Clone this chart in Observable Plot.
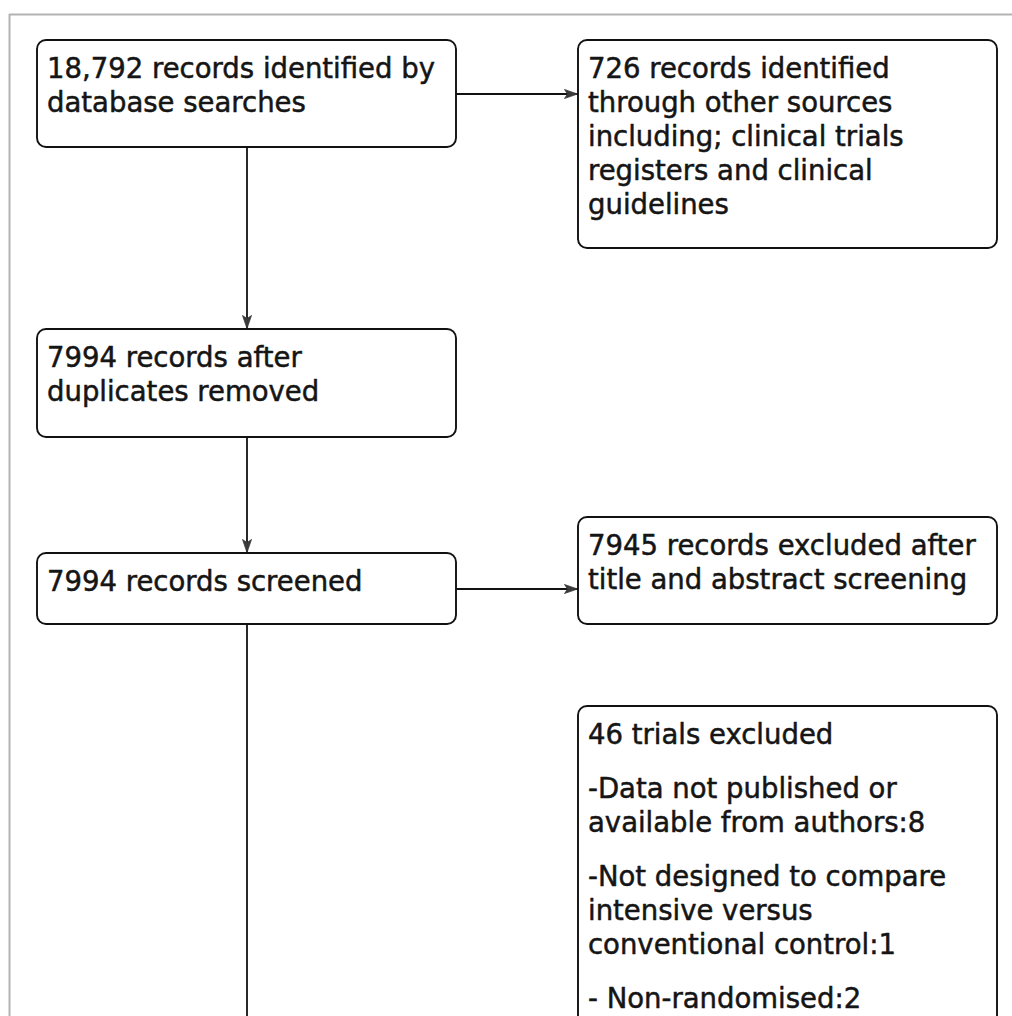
<!DOCTYPE html>
<html>
<head>
<meta charset="utf-8">
<script src="https://cdn.jsdelivr.net/npm/d3@7"></script>
<script src="https://cdn.jsdelivr.net/npm/@observablehq/plot@0.6"></script>
<style>
  html, body { margin: 0; padding: 0; background: #fff; }
  #chart svg { display: block; }
</style>
</head>
<body>
<div id="chart"></div>
<script>
// ---- Data: text of each stage of the flow diagram ----
const databaseRecords = ["18,792 records identified by", "database searches"];
const otherSourceRecords = ["726 records identified", "through other sources", "including; clinical trials", "registers and clinical", "guidelines"];
const afterDuplicates = ["7994 records after", "duplicates removed"];
const screenedRecords = ["7994 records screened"];
const excludedScreening = ["7945 records excluded after", "title and abstract screening"];
const trialsExcluded = [
  ["46 trials excluded"],
  ["-Data not published or", "available from authors:8"],
  ["-Not designed to compare", "intensive versus", "conventional control:1"],
  ["- Non-randomised:2"]
];

// ---- Layout (geometry in diagram units) ----
const W = 1012, H = 1016;
const layout = {
  frame: {x: 9, y: 14},
  boxes: {
    db:       {x1: 37,  x2: 456, y1: 40,  y2: 147, paras: [databaseRecords]},
    other:    {x1: 578, x2: 997, y1: 40,  y2: 248, paras: [otherSourceRecords]},
    dup:      {x1: 37,  x2: 456, y1: 329, y2: 437, paras: [afterDuplicates]},
    screen:   {x1: 37,  x2: 456, y1: 553, y2: 624, paras: [screenedRecords]},
    excl:     {x1: 578, x2: 997, y1: 517, y2: 624, paras: [excludedScreening]},
    trials:   {x1: 578, x2: 997, y1: 706, y2: 1060, paras: trialsExcluded}
  },
  padX: 9.5, firstBaseline: 37.5, lineStep: 34, paraGap: 20
};

const boxes = Object.entries(layout.boxes).map(([key, b]) => ({key, ...b}));
const B = layout.boxes;
const cx = b => (b.x1 + b.x2) / 2;
const cy = b => (b.y1 + b.y2) / 2;

// text lines
const lines = [];
for (const b of boxes) {
  let i = 0;
  b.paras.forEach((para, p) => {
    para.forEach(t => {
      lines.push({text: t, x: b.x1 + layout.padX, y: b.y1 + layout.firstBaseline + i * layout.lineStep + p * layout.paraGap});
      i++;
    });
  });
}

// connectors
const connectors = [
  {x1: B.db.x2, y1: cy(B.db), x2: B.other.x1, y2: cy(B.db), head: "right"},
  {x1: cx(B.db), y1: B.db.y2, x2: cx(B.db), y2: B.dup.y1, head: "down"},
  {x1: cx(B.dup), y1: B.dup.y2, x2: cx(B.dup), y2: B.screen.y1, head: "down"},
  {x1: B.screen.x2, y1: cy(B.screen), x2: B.excl.x1, y2: cy(B.screen), head: "right"},
  {x1: cx(B.screen), y1: B.screen.y2, x2: cx(B.screen), y2: H, head: null}
];
const heads = connectors.filter(d => d.head);

const arrowSymbol = {
  draw(context) {
    context.moveTo(-1, 0);
    context.lineTo(-14, -4.5);
    context.lineTo(-11, 0);
    context.lineTo(-14, 4.5);
    context.closePath();
  }
};

const chart = Plot.plot({
  width: W,
  height: H,
  margin: 0,
  x: {domain: [0, W], range: [0, W], axis: null},
  y: {domain: [0, H], range: [0, H], axis: null},
  style: {background: "#fff"},
  marks: [
    Plot.ruleY([layout.frame.y], {x1: layout.frame.x, x2: W, stroke: "#b3b3b3", strokeWidth: 2}),
    Plot.ruleX([layout.frame.x], {y1: layout.frame.y, y2: H, stroke: "#b3b3b3", strokeWidth: 2}),
    Plot.link(connectors, {x1: "x1", y1: "y1", x2: "x2", y2: "y2", stroke: "#111", strokeWidth: 1.8}),
    Plot.dot(heads, {x: "x2", y: "y2", symbol: arrowSymbol, fill: "#3a3a3a", stroke: "#3a3a3a", strokeWidth: 0.8, rotate: d => d.head === "down" ? 90 : 0}),
    Plot.rect(boxes, {x1: "x1", x2: "x2", y1: "y1", y2: "y2", fill: "#fff", stroke: "#111", strokeWidth: 1.9, rx: 9}),
    Plot.text(lines, {x: "x", y: "y", text: "text", textAnchor: "start", lineAnchor: "bottom",
      fontSize: 27.5, fontFamily: "DejaVu Sans", fill: "#151515", stroke: "#151515", strokeWidth: 0.5})
  ]
});
document.getElementById("chart").appendChild(chart);
</script>
</body>
</html>
